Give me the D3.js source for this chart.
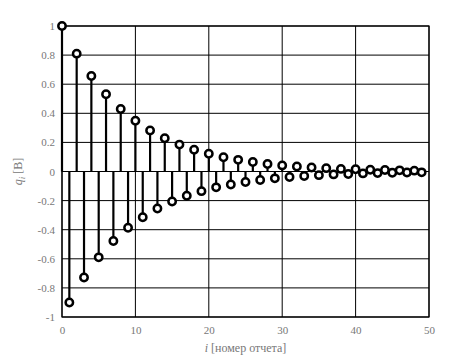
<!DOCTYPE html>
<html><head><meta charset="utf-8">
<script src="https://cdn.jsdelivr.net/npm/d3@7"></script>
<style>body{margin:0;background:#fff}svg{display:block}text{font-family:"Liberation Serif","DejaVu Serif",serif}</style>
</head><body>
<svg id="c" width="473" height="356"></svg>
<script>
const idx = [0,1,2,3,4,5,6,7,8,9,10,11,12,13,14,15,16,17,18,19,20,21,22,23,24,25,26,27,28,29,30,31,32,33,34,35,36,37,38,39,40,41,42,43,44,45,46,47,48,49];
const qValues = [1,-0.9,0.81,-0.729,0.656,-0.59,0.531,-0.478,0.43,-0.387,0.349,-0.314,0.282,-0.254,0.229,-0.206,0.185,-0.167,0.15,-0.135,0.122,-0.109,0.098,-0.089,0.08,-0.072,0.065,-0.058,0.052,-0.047,0.042,-0.038,0.034,-0.031,0.028,-0.025,0.023,-0.02,0.018,-0.017,0.015,-0.013,0.012,-0.011,0.01,-0.009,0.008,-0.007,0.006,-0.006];
const xTicks = [0,10,20,30,40,50];
const yTicks = [-1,-0.8,-0.6,-0.4,-0.2,0,0.2,0.4,0.6,0.8,1];

const W=473,H=356, m={l:62,r:44,t:26,b:39};
const svg=d3.select('#c');
const x=d3.scaleLinear().domain([0,50]).range([m.l,W-m.r]);
const y=d3.scaleLinear().domain([-1,1]).range([H-m.b,m.t]);
const font='"Liberation Serif","DejaVu Serif",serif', tc='#777';

// grid
svg.append('g').selectAll('line').data(xTicks).join('line')
  .attr('x1',d=>x(d)).attr('x2',d=>x(d)).attr('y1',y(-1)).attr('y2',y(1))
  .attr('stroke','#000').attr('stroke-width',1);
svg.append('g').selectAll('line').data(yTicks).join('line')
  .attr('x1',x(0)).attr('x2',x(50)).attr('y1',d=>y(d)).attr('y2',d=>y(d))
  .attr('stroke','#000').attr('stroke-width',1);
svg.append('rect').attr('x',x(0)).attr('y',y(1)).attr('width',x(50)-x(0)).attr('height',y(-1)-y(1))
  .attr('fill','none').attr('stroke','#000').attr('stroke-width',1.2);

// axes (labels only)
const xa=svg.append('g').attr('transform',`translate(0,${y(-1)})`)
  .call(d3.axisBottom(x).tickValues(xTicks).tickSize(0).tickPadding(9).tickFormat(d3.format('d')));
const ya=svg.append('g').attr('transform',`translate(${x(0)},0)`)
  .call(d3.axisLeft(y).tickValues(yTicks).tickSize(0).tickPadding(7).tickFormat(d=>String(d)));
[xa,ya].forEach(a=>{a.attr('font-family',font);a.select('.domain').remove();a.selectAll('text').attr('font-family',font).attr('font-size',11).attr('fill',tc);});

// stems
const pts=idx.map((d,i)=>({i:d,v:qValues[i]}));
svg.append('g').selectAll('line').data(pts).join('line')
  .attr('x1',d=>x(d.i)).attr('x2',d=>x(d.i)).attr('y1',y(0)).attr('y2',d=>y(d.v))
  .attr('stroke','#000').attr('stroke-width',2.2);
svg.append('g').selectAll('circle').data(pts).join('circle')
  .attr('cx',d=>x(d.i)).attr('cy',d=>y(d.v)).attr('r',3.7)
  .attr('fill','#fff').attr('stroke','#000').attr('stroke-width',2.5);

// labels
const xl=svg.append('text').attr('x',(x(0)+x(50))/2).attr('y',352).attr('text-anchor','middle')
  .attr('font-family',font).attr('font-size',12).attr('fill',tc);
xl.append('tspan').attr('font-style','italic').text('i');
xl.append('tspan').text(' [номер отчета]');
const yl=svg.append('text').attr('transform',`translate(22,${y(0)}) rotate(-90)`).attr('text-anchor','middle')
  .attr('font-family',font).attr('font-size',12).attr('fill',tc);
yl.append('tspan').attr('font-style','italic').text('q');
yl.append('tspan').attr('font-style','italic').attr('font-size',9).attr('dy',3).text('i');
yl.append('tspan').attr('dy',-3).text(' [В]');
</script>
</body></html>
